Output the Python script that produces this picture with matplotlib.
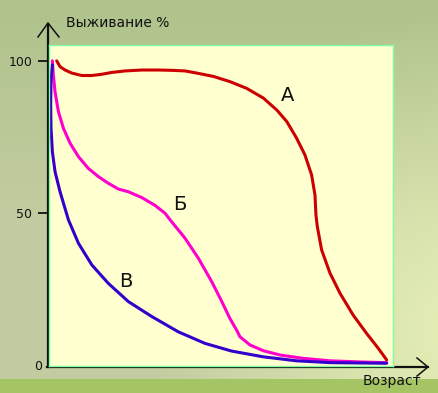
import matplotlib
matplotlib.use('Agg')
import matplotlib.pyplot as plt
import numpy as np

# кривые выживания: возраст (0..100), выживание %
age_a = [1.4, 2.4, 3.9, 5.9, 8.9, 11.9, 14.8, 17.8, 21.8, 26.8, 31.7, 35.7, 39.7, 43.2,
         48.2, 53.1, 58.1, 63.1, 67.1, 70.1, 73.0, 75.5, 77.5, 78.5, 78.8, 79.2, 80.5,
         83.0, 86.0, 89.9, 93.9, 97.4, 99.9]
surv_a = [100.0, 98.1, 97.0, 96.0, 95.2, 95.2, 95.6, 96.2, 96.7, 97.0, 97.0, 96.9, 96.7,
          96.0, 94.9, 93.2, 91.0, 87.8, 83.9, 80.1, 74.7, 69.2, 62.6, 56.1, 49.5, 45.7,
          38.0, 30.4, 23.8, 16.7, 10.7, 5.8, 2.0]

age_b = [0.1, 0.4, 0.9, 1.9, 3.4, 5.4, 7.9, 10.8, 13.8, 16.8, 19.8, 22.8, 26.8, 30.8,
         33.7, 35.7, 39.7, 43.7, 47.7, 50.7, 53.1, 55.1, 56.1, 59.1, 63.1, 68.1, 75.0,
         83.0, 92.9, 99.9]
surv_b = [100.0, 95.4, 89.9, 83.4, 77.9, 73.0, 68.6, 64.8, 62.1, 59.9, 58.0, 57.1, 55.2,
          52.6, 50.1, 47.3, 41.9, 35.3, 27.6, 21.1, 15.6, 11.8, 9.6, 6.9, 5.0, 3.6, 2.5,
          1.7, 1.3, 1.1]

age_v = [0.1, -0.3, -0.4, -0.3, 0.1, 0.9, 2.4, 4.9, 7.9, 11.9, 16.8, 22.8, 29.8, 37.7,
         45.7, 53.6, 63.1, 73.0, 83.0, 99.9]
surv_v = [98.7, 93.2, 85.6, 77.9, 70.3, 63.7, 57.1, 47.9, 40.2, 33.1, 27.1, 21.1, 16.2,
          11.2, 7.4, 4.9, 3.0, 1.7, 1.1, 0.9]

curve_names = ['А', 'Б', 'В']
name_x = [70.4, 38.2, 22.0]
name_y = [88.5, 52.8, 27.8]
colors = ['#CC0000', '#FF00CC', '#3300CC']

yticks = [50, 100]

W, H = 439, 393
fig = plt.figure(figsize=(W / 100, H / 100), dpi=100)

# фон
bg = fig.add_axes([0, 0, 1, 1])
bg.set_xlim(0, W)
bg.set_ylim(H, 0)
bg.axis('off')
yy, xx = np.mgrid[0:H, 0:W].astype(float)
top = np.array([176, 195, 140])
mid = np.array([194, 204, 160])
t = np.clip(yy / 220.0, 0, 1)[..., None]
img = top * (1 - t) + mid * t
d = np.hypot(xx - 470, yy - 330)
glow = np.clip(1 - d / 320.0, 0, 1)[..., None]
img = img + glow * np.array([36, 36, 22])
band = ((yy > 378).astype(float))[..., None]
img = img * (1 - band) + np.array([165, 196, 100]) * band
img = np.clip(img, 0, 255) / 255.0
bg.imshow(img, extent=(0, W, H, 0), aspect='auto', interpolation='bilinear')

# оси со стрелками
bg.plot([48, 48], [367, 24], color='#111111', lw=1.6)
bg.plot([38, 48, 59], [37, 23, 37], color='#111111', lw=1.1)
bg.plot([47, 428], [367, 367], color='#111111', lw=1.6)
bg.plot([417, 428, 417], [358, 367, 376], color='#111111', lw=1.1)
bg.text(66, 23, 'Выживание %', fontsize=10, va='center', ha='left', color='#111111')
bg.text(363, 381, 'Возраст', fontsize=10, va='center', ha='left', color='#111111')

# область графика
ax = fig.add_axes([49 / W, (H - 366) / H, (393 - 49) / W, (366 - 45) / H])
ax.set_facecolor('#FFFFD0')
for s in ax.spines.values():
    s.set_color('#80FF9F')
    s.set_linewidth(1.0)
ax.set_xlim(-0.9, 101.8)
ax.set_ylim(0, 105.2)
ax.set_xticks([])
ax.set_yticks(yticks)
ax.set_yticklabels([str(v) for v in yticks], fontsize=9, color='#111111')
ax.tick_params(axis='y', length=8, width=1.3, color='#111111', pad=4)
ax.text(-3.0, 0, '0', fontsize=9, color='#111111', ha='right', va='center', clip_on=False)

for x, y, c in zip([age_a, age_b, age_v], [surv_a, surv_b, surv_v], colors):
    ax.plot(x, y, color=c, lw=2.2, solid_joinstyle='round', solid_capstyle='round')

for n, x, y in zip(curve_names, name_x, name_y):
    ax.text(x, y, n, fontsize=14, ha='center', va='center', color='#111111')

fig.savefig('out.png', dpi=100)
